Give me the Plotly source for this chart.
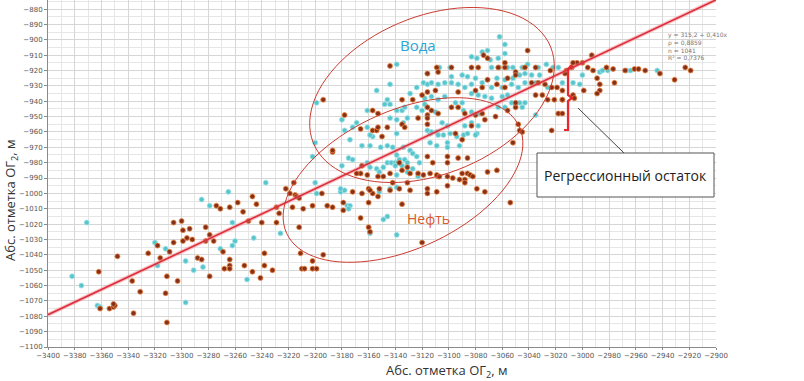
import math
import plotly.graph_objects as go

# ---------------- data ----------------
water_x = [-3382,-3375,-3371,-3363,-3361,-3320,-3318,-3312,-3297,-3297,-3291,-3284,-3285,-3279,-3265,-3271,-3262,-3262,-3260,-3251,-3246,-3237,-3226,-3202,-3200,-3199,
 -3200,-3181,-3178,-3180,-3175,-3172,-3165,-3159,-3151,-3146,-3142,-3174,-3157,-3161,-3159,-3154,-3149,-3146,-3152,-3143,-3140,-3138,-3137,-3133,-3131,-3140,-3135,-3139,-3134,-3129,-3127,-3124,-3122,-3131,-3127,-3123,-3139,-3181,-3176,-3174,-3175,-3149,-3159,-3139,-3146,-3114,-3109,-3104,-3099,-3094,-3089,-3079,-3114,-3109,-3101,-3092,-3101,-3152,-3144,-3139,
 -3199,-3139,-3154,-3144,-3180,-3178,-3169,-3161,-3146,-3148,-3144,-3139,-3135,-3133,-3144,-3139,-3134,-3131,-3124,-3120,-3118,-3119,-3116,-3129,-3124,-3159,-3139,-3116,-3172,-3161,
 -3062,-3058,-3075,-3071,-3058,-3116,-3107,-3099,-3098,-3090,-3086,-3080,-3083,-3079,-3069,-3063,-3068,-3062,-3056,-3052,-3045,-3041,-3033,-3027,-3022,-3018,-3113,-3108,-3103,-3098,-3093,-3088,-3083,-3075,-3071,-3064,-3058,-3052,-3047,-3043,-3038,-3032,-3068,-3060,-3053,-3048,-3043,-3035,-3118,-3113,-3108,-3103,-3095,-3090,-3083,-3078,-3073,-3068,-3060,-3056,-3053,-3047,-3043,-3116,-3110,-3089,-3083,-3077,-3088,-3083,-3078,-3105,-3101,-3113,-3108,-3086,-3080,-3063,-3058,-3050,-3045,-3035,-3026,
 -2987,-2985,-3000,-2944,-3015,-3007,-3002,-2967,-2964,-2981]
water_y = [-1054,-1060,-1019,-1073,-1074,-1032,-1047,-1036,-1044,-1071,-1050,-1048,-1004,-1008,-999,-1036,-1034,-1019,-1031,-1056,-1029,-993,-1026,-976,-993,-1000,
 -967,-999,-998,-982,-977,-978,-969,-969,-970,-969,-970,-965,-963,-980,-983,-984,-983,-980,-986,-980,-980,-980,-978,-978,-980,-982,-982,-975,-970,-972,-974,-976,-980,-986,-984,-989,-988,-997,-1008,-1008,-1010,-1017,-1026,-1027,-1015,-961,-960,-962,-961,-963,-962,-961,-967,-969,-967,-969,-970,-999,-997,-996,
 -941,-916,-933,-929,-952,-959,-954,-957,-939,-942,-942,-946,-946,-944,-951,-952,-954,-951,-944,-946,-942,-928,-929,-935,-931,-962,-961,-959,-957,-946,
 -898,-903,-908,-907,-909,-922,-918,-918,-924,-923,-924,-925,-911,-912,-913,-912,-918,-918,-918,-918,-918,-916,-918,-916,-918,-918,-928,-929,-928,-928,-929,-931,-929,-928,-926,-925,-926,-925,-923,-922,-923,-923,-931,-931,-929,-931,-928,-928,-938,-937,-939,-937,-941,-941,-935,-936,-937,-938,-937,-936,-941,-941,-941,-944,-947,-946,-947,-948,-956,-954,-956,-954,-956,-960,-962,-961,-962,-944,-944,-942,-944,-949,-931,
 -921,-920,-923,-920,-928,-928,-929,-920,-920,-920]

oil_x = [-3362,-3361,-3354,-3351,-3350,-3351,-3348,-3337,-3336,-3331,-3325,-3318,-3316,-3312,-3311,-3311,-3309,-3306,-3303,-3306,-3300,-3299,-3299,-3296,-3294,-3292,-3288,-3285,-3282,-3282,-3279,-3279,-3276,-3274,-3271,-3269,-3268,-3264,-3264,-3264,-3264,-3258,-3254,-3253,-3250,-3247,-3247,-3244,-3241,-3240,-3238,-3238,-3232,-3229,-3229,-3227,-3222,-3219,-3216,-3215,-3214,-3212,-3212,-3209,-3211,-3210,-3208,-3202,-3202,-3202,-3199,-3194,-3195,-3191,
 -3217,-3187,-3179,-3179,-3172,-3165,-3166,-3160,-3159,-3160,-3157,-3153,-3152,-3144,-3135,-3129,-3120,-3116,-3116,-3109,-3101,-3101,-3108,-3097,-3092,-3088,-3090,-3086,-3084,-3079,-3073,-3071,-3064,-3054,-3052,-3047,-3187,-3187,-3165,-3161,-3166,-3169,-3137,-3135,-3131,-3129,-3123,-3119,-3114,-3109,-3107,-3101,-3101,-3093,-3086,-3116,-3112,-3144,-3149,-3153,-3142,-3160,-3159,-3137,-3131,-3088,-3082,
 -3144,-3194,-3157,-3153,-3178,-3166,-3157,-3154,-3153,-3146,-3150,-3135,-3135,-3127,-3120,-3116,-3123,-3116,-3133,-3116,
 -3041,-3074,-3071,-3058,-3109,-3108,-3098,-3083,-3078,-3063,-3058,-3050,-3043,-3035,-3024,-3056,-3050,-3071,-3075,-3064,-3058,-3038,-3033,-3028,-3023,-3019,-3035,-3030,-3026,-3021,-3015,-3116,-3110,-3093,-3080,-3113,-3108,-3098,-3093,-3088,-3080,-3075,-3065,-3056,-3050,-3050,-3073,-3116,-3116,-3095,-3083,-3090,-3048,-3018,-3015,-3023,-3045,
 -2993,-3004,-3000,-2996,-3008,-3007,-2992,-2982,-2977,-2968,-2961,-2958,-2953,-2942,-2923,-2919,-2931,-2976,-2989,-2987,-2999,-2987,-2989,-3007,-3006,-3012,-3013,-3015,-3015]
oil_y = [-1051,-1075,-1075,-1074,-1073,-1072,-1041,-1057,-1078,-1064,-1039,-1034,-1042,-1065,-1054,-1084,-1038,-1032,-1057,-1019,-1018,-1024,-1031,-1029,-1023,-1030,-1042,-1043,-1031,-1022,-1027,-1054,-1031,-1008,-1010,-1038,-1049,-1009,-1043,-1047,-1049,-1006,-1012,-1047,-1018,-1051,-1002,-1007,-1055,-1019,-1039,-1047,-1050,-1019,-1009,-1013,-997,-1000,-993,-1001,-1002,-1003,-1022,-1010,-1039,-1049,-1049,-1008,-1049,-1044,-1049,-1040,-1000,-1008,
 -1009,-1009,-1011,-1006,-999,-1000,-1016,-1022,-1025,-1006,-1000,-1002,-997,-998,-1007,-998,-1032,-997,-1000,-999,-995,-989,-989,-990,-991,-991,-987,-987,-988,-997,-999,-986,-985,-1006,-967,-959,-973,-972,-982,-988,-987,-987,-980,-985,-983,-987,-987,-988,-987,-988,-989,-976,-980,-977,-977,-976,-980,-987,-989,-989,-993,-997,-998,-997,-993,-993,-989,
 -917,-939,-946,-948,-949,-958,-959,-959,-957,-957,-963,-955,-939,-939,-936,-944,-951,-955,-957,-922,
 -907,-910,-912,-915,-918,-921,-918,-918,-918,-918,-918,-921,-918,-918,-920,-925,-923,-926,-931,-929,-931,-928,-928,-929,-931,-931,-936,-936,-939,-939,-939,-934,-933,-934,-933,-946,-948,-944,-944,-948,-949,-948,-950,-946,-944,-941,-952,-949,-951,-961,-956,-965,-955,-948,-948,-959,-960,
 -910,-915,-915,-918,-918,-915,-920,-918,-919,-920,-919,-919,-920,-922,-918,-920,-926,-928,-925,-929,-933,-933,-935,-936,-938,-920,-922,-933,-939]

reg_intercept = 315.0
reg_slope = 0.41
reg_x = [-3400, -2900]
stats_text = "y = 315,2 + 0,410x<br>ρ = 0,8859<br>n = 1041<br>R² = 0,7376"

x_ticks = list(range(-3400, -2899, 20))
y_ticks = list(range(-1100, -879, 10))

# ---------------- geometry (page pixels) ----------------
W, H = 804, 381
PX0, PX1 = 48, 716      # plot area left/right
PY0, PY1 = 0, 347       # plot area top/bottom
X0, X1 = -3400, -2900
Y0, Y1 = -1100, -874.1
L, R, T, B = PX0, W - PX1, PY0, H - PY1

def px2x(px):
    return X0 + (px - PX0) / (PX1 - PX0) * (X1 - X0)

def py2y(py):
    return Y1 - (py - PY0) / (PY1 - PY0) * (Y1 - Y0)

def px2paper(px):
    return (px - PX0) / (PX1 - PX0)

def py2paper(py):
    return (PY1 - py) / (PY1 - PY0)

def ellipse_path(cx, cy, a, b, theta_deg, n=90):
    th = math.radians(theta_deg)
    pts = []
    for i in range(n):
        t = 2 * math.pi * i / n
        ux, vy = a * math.cos(t), b * math.sin(t)
        px = cx + ux * math.cos(th) + vy * math.sin(th)
        py = cy - ux * math.sin(th) + vy * math.cos(th)
        pts.append((px2x(px), py2y(py)))
    return "M " + " L ".join(f"{x:.2f},{y:.2f}" for x, y in pts) + " Z"

fig = go.Figure()

fig.add_trace(go.Scatter(
    x=water_x, y=water_y, mode="markers",
    marker=dict(size=5, color="#58c5cd", line=dict(color="rgba(165,228,232,0.8)", width=1)),
    hoverinfo="skip", showlegend=False))
fig.add_trace(go.Scatter(
    x=oil_x, y=oil_y, mode="markers",
    marker=dict(size=5, color="#85301a", line=dict(color="rgba(238,135,65,0.8)", width=1)),
    hoverinfo="skip", showlegend=False))

reg_y = [reg_intercept + reg_slope * v for v in reg_x]
fig.add_trace(go.Scatter(x=reg_x, y=reg_y, mode="lines",
    line=dict(color="rgba(240,130,140,0.45)", width=4), hoverinfo="skip", showlegend=False))
fig.add_trace(go.Scatter(x=reg_x, y=reg_y, mode="lines",
    line=dict(color="#dd2e3a", width=1.6), hoverinfo="skip", showlegend=False))

shapes = [
    dict(type="path", path=ellipse_path(432, 95, 128, 79, 22), xref="x", yref="y",
         line=dict(color="#cc3b30", width=1)),
    dict(type="path", path=ellipse_path(403, 180, 128, 69, 24.6), xref="x", yref="y",
         line=dict(color="#cc3b30", width=1)),
    # bracket (regression residual)
    dict(type="path", xref="x", yref="y",
         path=f"M {px2x(572)},{py2y(65)} L {px2x(568)},{py2y(69)} L {px2x(568)},{py2y(95)} "
              f"L {px2x(572)},{py2y(98)} L {px2x(568)},{py2y(101)} L {px2x(568)},{py2y(130)} L {px2x(564)},{py2y(130)}",
         line=dict(color="#e8282e", width=2.2)),
    # connector
    dict(type="line", xref="x", yref="y", x0=px2x(578), y0=py2y(108), x1=px2x(624), y1=py2y(153),
         line=dict(color="#444", width=1)),
    # box
    dict(type="rect", xref="x", yref="y", x0=px2x(537), y0=py2y(153), x1=px2x(714), y1=py2y(197),
         line=dict(color="#555", width=1), fillcolor="white"),
]

annotations = [
    dict(x=px2x(418), y=py2y(45), text="Вода", showarrow=False, xref="x", yref="y",
         font=dict(family="Open Sans", size=15, color="#2aa6d6")),
    dict(x=px2x(428), y=py2y(218), text="Нефть", showarrow=False, xref="x", yref="y",
         font=dict(family="Open Sans", size=14, color="#d95a2b")),
    dict(x=px2x(625), y=py2y(175), text="Регрессионный остаток", showarrow=False, xref="x", yref="y",
         font=dict(family="Open Sans", size=14, color="#222")),
    dict(x=px2x(666), y=py2y(29), text=stats_text, showarrow=False, xref="x", yref="y",
         xanchor="left", yanchor="top", align="left",
         font=dict(family="DejaVu Sans", size=6, color="#777")),
    dict(x=px2paper(447), y=py2paper(371), xref="paper", yref="paper",
         xanchor="center", yanchor="middle",
         text="Абс. отметка ОГ<sub>2</sub>, м", showarrow=False,
         font=dict(family="Open Sans", size=13, color="#333")),
    dict(x=px2paper(11), y=py2paper(200), xref="paper", yref="paper",
         xanchor="center", yanchor="middle",
         text="Абс. отметка ОГ<sub>2</sub>, м", showarrow=False, textangle=-90,
         font=dict(family="Open Sans", size=13, color="#333")),
]

fig.update_layout(
    width=W, height=H, margin=dict(l=L, r=R, t=T, b=B, pad=0),
    paper_bgcolor="white", plot_bgcolor="white",
    shapes=shapes, annotations=annotations, showlegend=False,
    xaxis=dict(range=[X0, X1], tickvals=x_ticks, tickangle=0, showgrid=True, gridcolor="#d6d6d6", gridwidth=1,
               minor=dict(dtick=10, showgrid=True, gridcolor="#e6e6e6", ticks=""),
               showline=True, linecolor="#8a8a8a", ticks="outside", ticklen=2, tickcolor="#8a8a8a",
               tickfont=dict(family="DejaVu Sans", size=7, color="#555"), zeroline=False),
    yaxis=dict(range=[Y0, Y1], tickvals=y_ticks, showgrid=True, gridcolor="#d6d6d6", gridwidth=1,
               minor=dict(dtick=5, showgrid=True, gridcolor="#e6e6e6", ticks=""),
               showline=True, linecolor="#8a8a8a", ticks="outside", ticklen=3, tickcolor="#8a8a8a",
               tickfont=dict(family="DejaVu Sans", size=7, color="#555"), zeroline=False),
)

fig.write_html("out.html", config={"displayModeBar": False},
               post_script="document.body.style.margin='0';")
